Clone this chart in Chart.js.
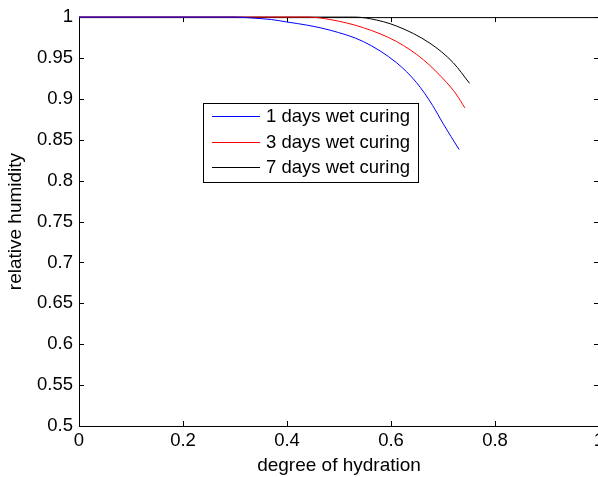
<!DOCTYPE html>
<html>
<head>
<meta charset="utf-8">
<script src="https://cdn.jsdelivr.net/npm/chart.js@4/dist/chart.umd.min.js"></script>
<style>
  html, body { margin: 0; padding: 0; background: #fff; }
  #wrap { width: 598px; height: 477px; overflow: hidden; }
</style>
</head>
<body>
<div id="wrap"><canvas id="grafik" width="640" height="477"></canvas></div>
<script>
// values
const labels = ['1 days wet curing', '3 days wet curing', '7 days wet curing'];
const colors = ['#0000ff', '#ff0000', '#000000'];

const hyd1 = [0, 0.30, 0.33, 0.37, 0.40, 0.44, 0.483, 0.547, 0.611, 0.649, 0.68, 0.70, 0.731];
const rh1  = [1, 1, 0.999, 0.997, 0.994, 0.990, 0.984, 0.970, 0.944, 0.920, 0.892, 0.870, 0.838];

const hyd3 = [0, 0.44, 0.483, 0.547, 0.611, 0.662, 0.707, 0.725, 0.742];
const rh3  = [1, 1, 0.997, 0.987, 0.970, 0.948, 0.920, 0.906, 0.889];

const hyd7 = [0, 0.53, 0.56, 0.611, 0.675, 0.72, 0.751];
const rh7  = [1, 1, 0.998, 0.989, 0.968, 0.944, 0.919];

const xTicks = [0, 0.2, 0.4, 0.6, 0.8, 1];
const yTicks = [0.5, 0.55, 0.6, 0.65, 0.7, 0.75, 0.8, 0.85, 0.9, 0.95, 1];

const fam = '"Liberation Sans", Arial, sans-serif';

function pts(xs, ys)
{
    return xs.map(function(x, i) { return {x: x, y: ys[i]}; });
}

const series = [pts(hyd1, rh1), pts(hyd3, rh3), pts(hyd7, rh7)];

// box round the axes + inward ticks, matlab style
const kutu = {
    id: 'kutu',
    beforeDatasetsDraw(chart)
    {
        const a = chart.chartArea, c = chart.ctx;
        const xs = chart.scales.x, ys = chart.scales.y;
        c.save();
        c.strokeStyle = '#000';
        c.lineWidth = 1;
        c.strokeRect(a.left + 0.5, a.top + 0.5, a.right - a.left, a.bottom - a.top);
        c.beginPath();
        xTicks.forEach(function(v)
        {
            const p = Math.round(xs.getPixelForValue(v)) + 0.5;
            c.moveTo(p, a.bottom); c.lineTo(p, a.bottom - 5);
            c.moveTo(p, a.top); c.lineTo(p, a.top + 5);
        });
        yTicks.forEach(function(v)
        {
            const p = Math.round(ys.getPixelForValue(v)) + 0.5;
            c.moveTo(a.left, p); c.lineTo(a.left + 5, p);
            c.moveTo(a.right, p); c.lineTo(a.right - 5, p);
        });
        c.stroke();
        c.restore();
    },
    afterDraw(chart)
    {
        // legend box
        const c = chart.ctx;
        c.save();
        c.fillStyle = '#fff';
        c.fillRect(203, 103, 215, 79);
        c.strokeStyle = '#000';
        c.lineWidth = 1;
        c.strokeRect(203.5, 103.5, 215, 79);
        c.font = '18.5px ' + fam;
        c.textBaseline = 'middle';
        const rows = [116, 142, 167];
        chart.data.datasets.forEach(function(ds, i)
        {
            c.strokeStyle = ds.borderColor;
            c.beginPath();
            c.moveTo(212, rows[i] + 0.5);
            c.lineTo(260, rows[i] + 0.5);
            c.stroke();
            c.fillStyle = '#000';
            c.fillText(ds.label, 266, rows[i] + 1);
        });
        c.restore();
    }
};

const fmt = function(v) { return String(+Number(v).toFixed(2)); };

new Chart(document.getElementById('grafik'),
{
    type: 'line',
    data: {
        datasets: series.map(function(s, i)
        {
            return {
                label: labels[i],
                data: s,
                borderColor: colors[i],
                borderWidth: 1,
                pointRadius: 0,
                fill: false,
                cubicInterpolationMode: 'monotone',
                clip: false
            };
        })
    },
    options: {
        responsive: false,
        animation: false,
        layout: { padding: { left: 0, top: 16, right: 41, bottom: 0 } },
        plugins: { legend: { display: false }, tooltip: { enabled: false } },
        scales: {
            x: {
                type: 'linear', min: 0, max: 1,
                afterFit: function(s) { s.height = 51; },
                afterBuildTicks: function(s) { s.ticks = xTicks.map(function(v) { return {value: v}; }); },
                grid: { display: false, drawTicks: false },
                border: { display: false },
                ticks: { color: '#000', padding: 4, maxRotation: 0, autoSkip: false,
                         font: { family: fam, size: 18.5 }, callback: fmt },
                title: { display: true, text: 'degree of hydration', color: '#000',
                         font: { family: fam, size: 19 }, padding: { top: 0, bottom: 0 } }
            },
            y: {
                type: 'linear', min: 0.5, max: 1,
                afterFit: function(s) { s.width = 79; },
                afterBuildTicks: function(s) { s.ticks = yTicks.map(function(v) { return {value: v}; }); },
                grid: { display: false, drawTicks: false },
                border: { display: false },
                ticks: { color: '#000', padding: 6, autoSkip: false,
                         font: { family: fam, size: 18.5 }, callback: fmt },
                title: { display: true, text: 'relative humidity', color: '#000',
                         font: { family: fam, size: 19 }, padding: { top: 4, bottom: 0 } }
            }
        }
    },
    plugins: [kutu]
});
</script>
</body>
</html>
